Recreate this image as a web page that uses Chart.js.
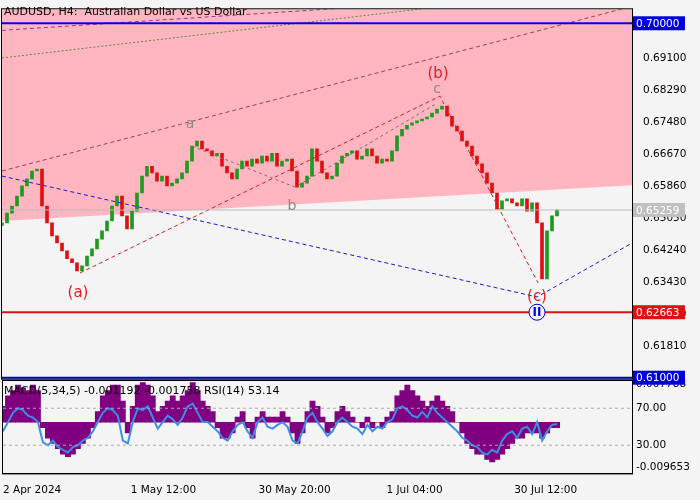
<!DOCTYPE html>
<html><head><meta charset="utf-8">
<script src="https://cdn.jsdelivr.net/npm/chart.js@4"></script>
<style>
body{margin:0;background:#f4f4f4;width:700px;height:500px;overflow:hidden;font-family:"DejaVu Sans",sans-serif}
#top{position:absolute;left:0;top:0;z-index:2}
#bot{position:absolute;left:0;top:376px;z-index:1}
</style></head><body>
<canvas id="top" width="700" height="388"></canvas>
<canvas id="bot" width="700" height="124"></canvas>
<script>
// close prices, one bar per slot
const closes = [
  0.6493,0.6518,0.6536,0.6561,0.6587,0.6605,0.6625,0.6630,0.6536,0.6493,
  0.6460,0.6442,0.6422,0.6402,0.6392,0.6371,0.6384,0.6409,0.6427,0.6452,
  0.6473,0.6498,0.6536,0.6561,0.6511,0.6478,0.6523,0.6569,0.6612,0.6637,
  0.6620,0.6599,0.6612,0.6587,0.6594,0.6605,0.6620,0.6650,0.6688,0.6701,
  0.6681,0.6676,0.6663,0.6670,0.6637,0.6620,0.6605,0.6630,0.6650,0.6637,
  0.6655,0.6645,0.6663,0.6650,0.6670,0.6637,0.6650,0.6655,0.6625,0.6584,
  0.6594,0.6612,0.6681,0.6650,0.6620,0.6605,0.6612,0.6645,0.6663,0.6670,
  0.6676,0.6655,0.6663,0.6681,0.6663,0.6645,0.6655,0.6650,0.6676,0.6714,
  0.6731,0.6741,0.6747,0.6752,0.6757,0.6762,0.6772,0.6782,0.6790,0.6764,
  0.6739,0.6726,0.6701,0.6688,0.6663,0.6643,0.6620,0.6594,0.6569,0.6528,
  0.6549,0.6554,0.6544,0.6536,0.6554,0.6523,0.6544,0.6493,0.6351,0.6473,
  0.6511,0.6526
];
const macd = [
  0.003,0.005,0.006,0.007,0.0065,0.006,0.007,0.006,
  -0.001,-0.003,-0.004,-0.005,-0.006,-0.0065,-0.006,-0.005,-0.004,-0.003,
  -0.001,0.002,0.005,0.006,0.007,0.007,0.004,-0.002,
  0.003,0.007,0.0075,0.007,0.005,0.002,0.003,0.004,0.005,0.004,0.005,
  0.006,0.0075,0.006,0.004,0.003,0.002,-0.001,-0.003,-0.003,-0.002,
  0.001,0.002,-0.001,-0.003,0.001,0.002,0.001,0.001,0.001,0.002,0.001,
  -0.002,-0.004,-0.002,0.002,0.004,0.003,0.001,-0.002,-0.001,0.002,
  0.003,0.002,0.001,0.000,-0.001,0.001,-0.001,0.000,-0.001,
  0.001,0.002,0.005,0.006,0.007,0.006,0.005,0.004,0.003,0.004,0.005,0.004,
  0.003,0.002,0.000,-0.002,-0.004,-0.005,-0.006,-0.006,
  -0.007,-0.0075,-0.007,-0.006,-0.005,-0.004,-0.003,-0.003,-0.002,
  -0.002,-0.002,-0.003,-0.002,-0.001,-0.001
];
const rsi = [
  45,55,65,70,68,62,60,55,33,30,35,28,25,22,28,30,35,38,45,55,
  65,70,68,62,35,32,55,70,68,72,60,48,55,62,58,52,60,72,75,65,
  55,55,50,45,38,35,45,52,55,45,38,55,60,50,48,52,55,50,35,32,
  45,60,65,55,48,40,45,55,60,55,50,48,42,52,45,50,48,55,58,70,
  72,68,62,60,66,60,72,65,60,55,50,45,38,35,30,28,22,20,25,22,
  35,42,45,38,48,50,42,55,35,45,52,53
];
const dateTicks = [0, 25.6, 51.2, 76.8, 102.4];
const dateLabels = ['2 Apr 2024', '1 May 12:00', '30 May 20:00', '1 Jul 04:00', '30 Jul 12:00'];
const priceTicks = [0.69100, 0.68290, 0.67480, 0.66670, 0.65860, 0.65050, 0.64240, 0.63430, 0.62620, 0.61810];
// wave lines [x index, price]
const bandEdge = [[0, 0.6498], [126, 0.6589]];
const blueWave = [[0, 0.6612], [107, 0.6305], [126, 0.6442]];
const redWave = [[15.6, 0.6366], [87.6, 0.6815], [107.2, 0.6341]];
const greyWave = [[38, 0.6688], [58.6, 0.6584], [87, 0.6797]];
const chan1 = [[0, 0.6625], [126, 0.7043]];
const chan2 = [[0, 0.6912], [126, 0.7099]];
const chan3 = [[0, 0.6982], [70, 0.7040]];
const levels = {top: 0.70000, cur: 0.65259, sup: 0.62663, low: 0.61000};
const waveLabels = [
  {x: 15.2, y: 0.6315, t: '(a)', c: '#e02020', f: 15},
  {x: 87.2, y: 0.6871, t: '(b)', c: '#e02020', f: 15},
  {x: 107, y: 0.6305, t: '(c)', c: '#e02020', f: 15},
  {x: 37.6, y: 0.6744, t: 'a', c: '#888', f: 14},
  {x: 58, y: 0.6536, t: 'b', c: '#888', f: 14},
  {x: 87, y: 0.6833, t: 'c', c: '#888', f: 14}
];

const FONT = {family: 'DejaVu Sans', size: 10.5};
const toPts = a => a.map(p => ({x: p[0], y: p[1]}));
const candles = closes.map((c, i) => ({x: i, y: [i ? closes[i - 1] : c - 0.0006, c]}));
const candleCol = candles.map(d => d.y[1] >= d.y[0] ? '#1e9a1e' : '#e01010');

function lineSet(pts, color, dash, w) {
  return {type: 'line', data: toPts(pts), borderColor: color, borderDash: dash, borderWidth: w || 1,
    pointRadius: 0, fill: false, order: 0};
}
function fixWidth(axis) { axis.width = 68; }

const overlay = {
  id: 'overlay',
  afterDatasetsDraw(chart) {
    const {ctx, scales: {x, y}, chartArea: a} = chart;
    ctx.save();
    const hline = (v, col, w) => {
      ctx.strokeStyle = col; ctx.lineWidth = w;
      ctx.beginPath(); ctx.moveTo(a.left, y.getPixelForValue(v)); ctx.lineTo(a.right, y.getPixelForValue(v)); ctx.stroke();
    };
    hline(levels.cur, '#bbbbbb', 1);
    hline(levels.top, '#0000dd', 2);
    hline(levels.sup, '#e01010', 2);
    hline(levels.low, '#0000dd', 2);
    waveLabels.forEach(l => {
      ctx.fillStyle = l.c; ctx.font = l.f + 'px "DejaVu Sans"';
      ctx.textAlign = 'center'; ctx.textBaseline = 'middle';
      ctx.fillText(l.t, x.getPixelForValue(l.x), y.getPixelForValue(l.y));
    });
    // circled II below (c)
    const cx = x.getPixelForValue(107), cy = y.getPixelForValue(levels.sup);
    ctx.fillStyle = '#f4f4f4'; ctx.strokeStyle = '#0000dd'; ctx.lineWidth = 1;
    ctx.beginPath(); ctx.arc(cx, cy, 8, 0, Math.PI * 2); ctx.fill(); ctx.stroke();
    ctx.fillStyle = '#0000dd'; ctx.font = 'bold 12px "DejaVu Sans"'; ctx.textAlign = 'center';
    ctx.fillText('II', cx, cy + 1);
    // frame
    ctx.strokeStyle = '#000'; ctx.lineWidth = 1;
    ctx.strokeRect(a.left - 0.5, a.top - 0.5, a.right - a.left + 1, a.bottom - a.top + 1);
    ctx.fillStyle = '#000'; ctx.font = '11px "DejaVu Sans"'; ctx.textAlign = 'left';
    ctx.fillText('AUDUSD, H4:  Australian Dollar vs US Dollar', 4, 12);
    // price boxes on the right axis
    const box = (v, bg, fg) => {
      const py = y.getPixelForValue(v);
      ctx.fillStyle = bg; ctx.fillRect(a.right + 1, py - 7, 52, 14);
      ctx.fillStyle = fg; ctx.font = '10.5px "DejaVu Sans"'; ctx.textAlign = 'left';
      ctx.fillText(v.toFixed(5), a.right + 4, py + 1);
    };
    box(levels.top, '#0000dd', '#fff');
    box(levels.cur, '#c0c0c0', '#fff');
    box(levels.sup, '#e01010', '#fff');
    box(levels.low, '#0000dd', '#fff');
    ctx.restore();
  }
};

new Chart(document.getElementById('top'), {
  data: {
    datasets: [
      {type: 'line', data: toPts(bandEdge), borderColor: 'rgba(0,0,0,0)', backgroundColor: '#ffb6c1',
        fill: 'end', pointRadius: 0, order: 5},
      lineSet(chan3, '#8a3a8a', [4, 3]),
      lineSet(chan2, '#5a8a3a', [2, 2]),
      lineSet(chan1, '#a04040', [4, 3]),
      lineSet(blueWave, '#1a1ad0', [4, 3]),
      lineSet(redWave, '#d02020', [4, 3]),
      lineSet(greyWave, '#8a6a6a', [3, 3]),
      {type: 'bar', data: candles, backgroundColor: candleCol, barThickness: 3, order: 1}
    ]
  },
  options: {
    animation: false, responsive: false,
    layout: {padding: {left: 2, top: 8, right: 0, bottom: 1}},
    plugins: {legend: {display: false}, tooltip: {enabled: false}},
    scales: {
      x: {type: 'linear', min: 0, max: 126, offset: false, display: false},
      y: {position: 'right', min: 0.60975, max: 0.70355, afterFit: fixWidth,
        grid: {display: false}, border: {color: '#000', width: 1},
        afterBuildTicks: ax => { ax.ticks = priceTicks.map(v => ({value: v})); },
        ticks: {color: '#000', font: FONT, padding: 3, callback: v => v.toFixed(5)}}
    }
  },
  plugins: [overlay]
});

const botText = {
  id: 'botText',
  afterDatasetsDraw(chart) {
    const {ctx, chartArea: a, scales: {y2}} = chart;
    ctx.save();
    ctx.strokeStyle = '#aaaaaa'; ctx.setLineDash([3, 3]);
    [70, 30].forEach(v => {
      const py = y2.getPixelForValue(v);
      ctx.beginPath(); ctx.moveTo(a.left, py); ctx.lineTo(a.right, py); ctx.stroke();
    });
    ctx.setLineDash([]);
    ctx.strokeStyle = '#000'; ctx.lineWidth = 1;
    ctx.strokeRect(a.left - 0.5, a.top - 0.5, a.right - a.left + 1, a.bottom - a.top + 1);
    ctx.fillStyle = '#000'; ctx.font = '11px "DejaVu Sans"'; ctx.textAlign = 'left'; ctx.textBaseline = 'middle';
    ctx.fillText('MACD(5,34,5) -0.001192 -0.001758 RSI(14) 53.14', 4, a.top + 10);
    ctx.font = '10.5px "DejaVu Sans"';
    ctx.fillText('0.007788', a.right + 4, a.top + 3);
    ctx.fillText('-0.009653', a.right + 4, a.bottom - 6);
    ctx.fillText('70.00', a.right + 4, y2.getPixelForValue(70));
    ctx.fillText('30.00', a.right + 4, y2.getPixelForValue(30));
    ctx.restore();
  }
};

new Chart(document.getElementById('bot'), {
  data: {
    datasets: [
      {type: 'line', data: rsi.map((v, i) => ({x: i, y: v})), yAxisID: 'y2', borderColor: '#3a8ee6',
        borderWidth: 2, pointRadius: 0, order: 0},
      {type: 'bar', data: macd.map((v, i) => ({x: i, y: v})), yAxisID: 'y', backgroundColor: '#800080',
        barThickness: 5.2, order: 1}
    ]
  },
  options: {
    animation: false, responsive: false,
    layout: {padding: {left: 2, top: 5, right: 0, bottom: 0}},
    plugins: {legend: {display: false}, tooltip: {enabled: false}},
    scales: {
      x: {type: 'linear', min: 0, max: 126, offset: false, grid: {display: false},
        border: {color: '#000'},
        afterBuildTicks: ax => { ax.ticks = dateTicks.map(v => ({value: v})); },
        ticks: {color: '#000', font: FONT, align: 'start', maxRotation: 0, autoSkip: false,
          callback: (v, i) => dateLabels[i]}},
      y: {position: 'right', min: -0.009653, max: 0.007788, afterFit: fixWidth,
        grid: {display: false}, border: {color: '#000'}, ticks: {display: false}},
      y2: {type: 'linear', display: false, min: -0.5, max: 99.5}
    }
  },
  plugins: [botText]
});
</script>
</body></html>
